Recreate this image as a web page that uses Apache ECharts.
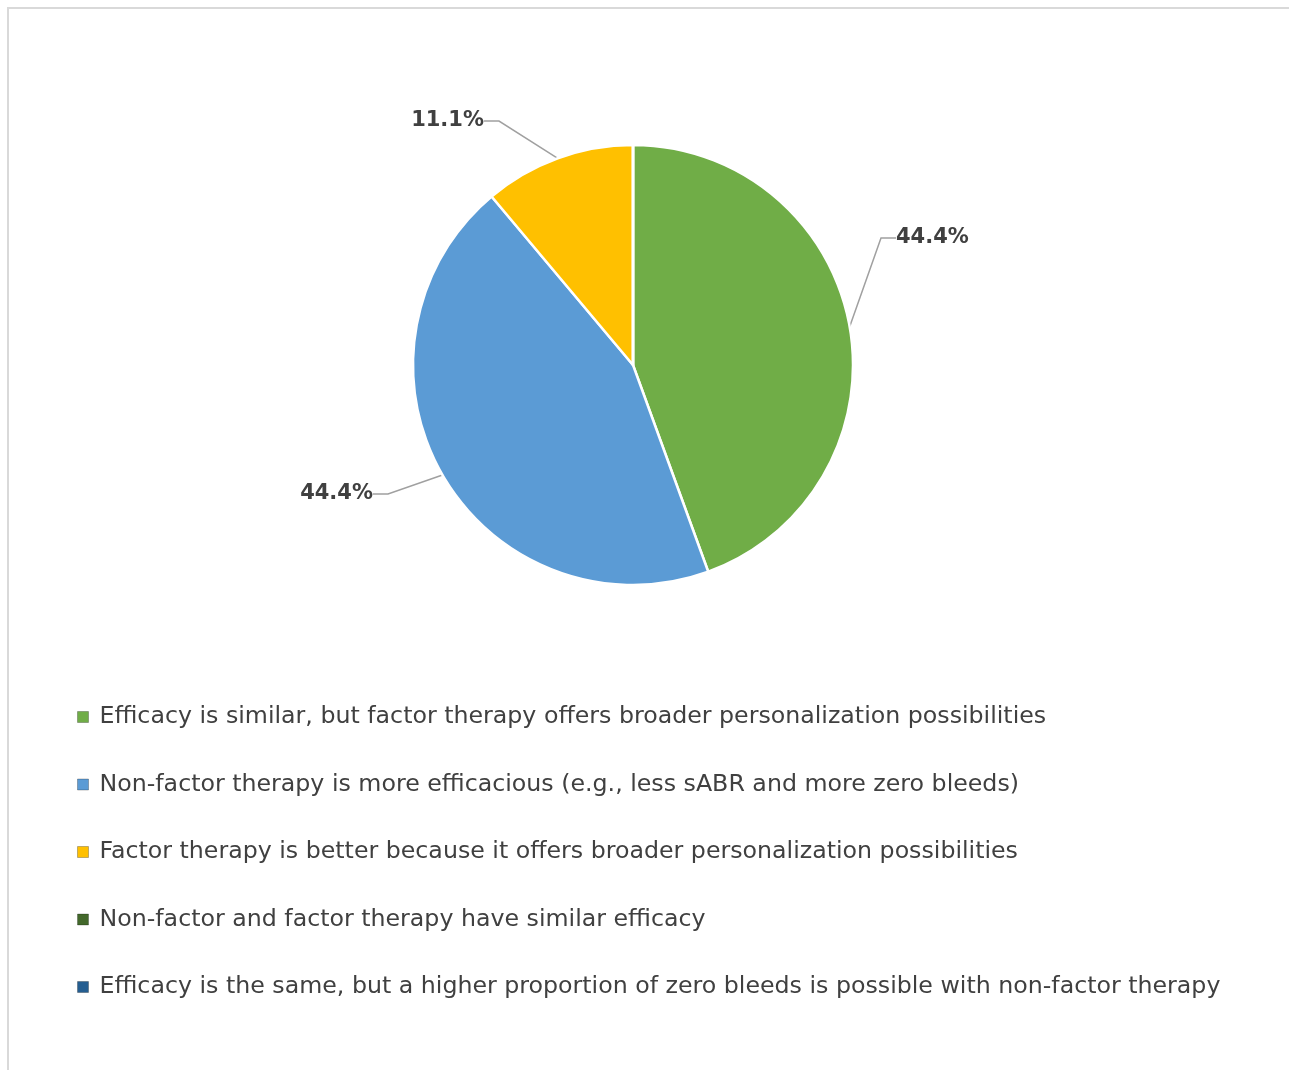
<!DOCTYPE html>
<html>
<head>
<meta charset="utf-8">
<script src="https://cdn.jsdelivr.net/npm/echarts@6/dist/echarts.min.js"></script>
<style>
  html, body { margin: 0; padding: 0; background: #ffffff; overflow: hidden; }
  #frame { position: absolute; left: 7px; top: 7px; width: 1400px; height: 1200px;
           border-left: 2px solid #d9d9d9; border-top: 2px solid #d9d9d9; }
  #chart { position: absolute; left: 0; top: 0; width: 1289px; height: 1070px; }
</style>
</head>
<body>
<div id="frame"></div>
<div id="chart"></div>
<script>
const categories = [
  'Efficacy is similar, but factor therapy offers broader personalization possibilities',
  'Non-factor therapy is more efficacious (e.g., less sABR and more zero bleeds)',
  'Factor therapy is better because it offers broader personalization possibilities',
  'Non-factor and factor therapy have similar efficacy',
  'Efficacy is the same, but a higher proportion of zero bleeds is possible with non-factor therapy'
];
const percentages = [44.4, 44.4, 11.1, 0, 0];
const colors = ['#70AD47', '#5B9BD5', '#FFC000', '#43682B', '#255E91'];
// label anchor positions (label placement, not marks)
const labelSpots = [
  { x: 896, y: 238, align: 'left' },
  { x: 373, y: 494, align: 'right' },
  { x: 484, y: 121, align: 'right' }
];

const chart = echarts.init(document.getElementById('chart'), null, { renderer: 'canvas' });

const data = categories.map((name, i) => ({
  name: name,
  value: percentages[i],
  itemStyle: { color: colors[i] },
  label: { show: percentages[i] > 0 },
  labelLine: { show: percentages[i] > 0 }
}));

chart.setOption({
  animation: false,
  backgroundColor: 'transparent',
  legend: {
    orient: 'vertical',
    left: 77,
    top: 705,
    padding: 0,
    itemWidth: 11,
    itemHeight: 11,
    itemGap: 43.5,
    icon: 'rect',
    textStyle: { fontFamily: 'DejaVu Sans', fontSize: 23.7, lineHeight: 24, color: '#404040', padding: [0, 0, 0, 6] },
    data: categories.map((name, i) => ({ name: name, itemStyle: { color: colors[i], borderColor: 'rgba(0,0,0,0.25)', borderWidth: 1 } }))
  },
  series: [{
    type: 'pie',
    center: [633, 365],
    radius: [0, 220],
    startAngle: 90,
    clockwise: true,
    avoidLabelOverlap: false,
    itemStyle: { borderColor: '#ffffff', borderWidth: 2.5 },
    label: {
      show: true,
      position: 'outside',
      formatter: p => p.value.toFixed(1) + '%',
      fontFamily: 'DejaVu Sans',
      fontWeight: 'bold',
      fontSize: 21,
      color: '#404040'
    },
    labelLine: {
      show: true,
      length: 40,
      length2: 15,
      lineStyle: { color: '#A0A0A0', width: 1.5 }
    },
    labelLayout: function (params) {
      const s = labelSpots[params.dataIndex];
      if (!s) return {};
      return { x: s.x, y: s.y, align: s.align, verticalAlign: 'middle' };
    },
    emphasis: { disabled: true },
    data: data
  }]
});
</script>
</body>
</html>
